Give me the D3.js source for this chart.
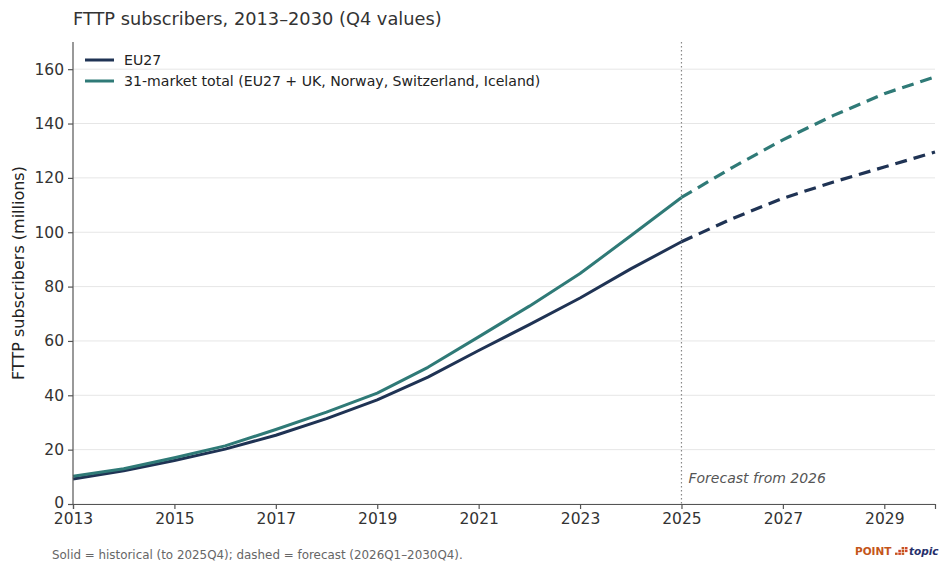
<!DOCTYPE html>
<html>
<head>
<meta charset="utf-8">
<script src="https://cdn.jsdelivr.net/npm/d3@7"></script>
<style>
  body { margin: 0; background: #fff; }
  svg { font-family: "DejaVu Sans", sans-serif; }
</style>
</head>
<body>
<div id="chart"></div>
<script>
// Q4 values, millions
const years = [2013, 2014, 2015, 2016, 2017, 2018, 2019, 2020, 2021, 2022,
               2023, 2024, 2025, 2026, 2027, 2028, 2029, 2030];
const eu27 = [9.2, 12.2, 16.0, 20.2, 25.3, 31.4, 38.3, 46.7, 56.5, 66.0,
              75.8, 86.5, 96.5, 105.0, 112.5, 118.5, 124.0, 129.5];
const total31 = [10.2, 13.0, 17.0, 21.4, 27.4, 33.8, 40.8, 50.3, 61.5, 72.8,
                 84.8, 98.7, 112.8, 123.8, 134.0, 143.0, 151.0, 157.2];
const lastActual = 2025;
const xTicks = [2013, 2015, 2017, 2019, 2021, 2023, 2025, 2027, 2029];
const yTicks = [0, 20, 40, 60, 80, 100, 120, 140, 160];

const seriesNames = ["EU27", "31-market total (EU27 + UK, Norway, Switzerland, Iceland)"];
const seriesColors = ["#1f3354", "#2f7a77"];

const W = 945, H = 572;
const margin = { top: 42, right: 10, bottom: 68, left: 73 };
const width = W - margin.left - margin.right;
const height = H - margin.top - margin.bottom;

const svg = d3.select("#chart").append("svg")
    .attr("width", W).attr("height", H);

const g = svg.append("g")
    .attr("transform", `translate(${margin.left},${margin.top})`);

const x = d3.scaleLinear().domain([2013, 2030]).range([0, width]);
const y = d3.scaleLinear().domain([0, 170]).range([height, 0]);

// grid
g.selectAll(".grid")
    .data(yTicks)
    .join("line")
    .attr("x1", 0).attr("x2", width)
    .attr("y1", d => y(d)).attr("y2", d => y(d))
    .attr("stroke", "#e6e6e6").attr("stroke-width", 1);

// forecast marker
g.append("line")
    .attr("x1", x(lastActual)).attr("x2", x(lastActual))
    .attr("y1", 0).attr("y2", height)
    .attr("stroke", "#888").attr("stroke-width", 1.2)
    .attr("stroke-dasharray", "1.5,2.5");

g.append("text")
    .attr("x", x(lastActual) + 7).attr("y", height - 21)
    .attr("font-size", 14).attr("font-style", "italic")
    .attr("fill", "#555")
    .text("Forecast from 2026");

// lines
const line = d3.line().x(d => x(d[0])).y(d => y(d[1]));
const allSeries = [eu27, total31];

allSeries.forEach((vals, i) => {
    const pts = years.map((yr, j) => [yr, vals[j]]);
    g.append("path")
        .datum(pts.filter(p => p[0] <= lastActual))
        .attr("d", line)
        .attr("fill", "none")
        .attr("stroke", seriesColors[i])
        .attr("stroke-width", 3)
        .attr("stroke-linejoin", "round");
    g.append("path")
        .datum(pts.filter(p => p[0] >= lastActual))
        .attr("d", line)
        .attr("fill", "none")
        .attr("stroke", seriesColors[i])
        .attr("stroke-width", 3.2)
        .attr("stroke-dasharray", "12,7");
});

// axes
const xAxis = g.append("g")
    .attr("transform", `translate(0,${height})`)
    .call(d3.axisBottom(x).tickValues(xTicks).tickFormat(d3.format("d")).tickSizeOuter(0).tickSize(5).tickPadding(4));
const yAxis = g.append("g")
    .call(d3.axisLeft(y).tickValues(yTicks).tickSizeOuter(0).tickSize(5).tickPadding(4));

[xAxis, yAxis].forEach(a => {
    a.select(".domain").attr("stroke", "#555").attr("stroke-width", 1.2);
    a.selectAll(".tick line").attr("stroke", "#555").attr("stroke-width", 1.2);
    a.selectAll(".tick text").attr("font-size", 15.5).attr("fill", "#333")
        .attr("font-family", "DejaVu Sans, sans-serif");
});
yAxis.select(".domain").attr("d", `M0,0V${height}`);
// lift the "0" label a touch so it clears the first year label
yAxis.selectAll(".tick text").filter(d => d === 0).attr("dy", "0.2em");

// y label
svg.append("text")
    .attr("transform", `translate(24,${margin.top + height / 2}) rotate(-90)`)
    .attr("text-anchor", "middle")
    .attr("font-size", 16).attr("fill", "#222")
    .text("FTTP subscribers (millions)");

// title
svg.append("text")
    .attr("x", 73).attr("y", 25)
    .attr("font-size", 17.8).attr("fill", "#333")
    .text("FTTP subscribers, 2013–2030 (Q4 values)");

// legend
const legend = g.append("g").attr("transform", "translate(12,18)");
seriesNames.forEach((name, i) => {
    const row = legend.append("g").attr("transform", `translate(0,${i * 21})`);
    row.append("line").attr("x1", 0).attr("x2", 29)
        .attr("stroke", seriesColors[i]).attr("stroke-width", 3);
    row.append("text").attr("x", 39).attr("y", 5)
        .attr("font-size", 14.1).attr("fill", "#222")
        .text(name);
});

// footnote
svg.append("text")
    .attr("x", 52).attr("y", 559)
    .attr("font-size", 11.9).attr("fill", "#666")
    .text("Solid = historical (to 2025Q4); dashed = forecast (2026Q1–2030Q4).");

// logo
const logo = svg.append("g").attr("transform", "translate(855,555)");
logo.append("text")
    .attr("font-size", 10.5).attr("font-weight", "bold").attr("fill", "#c4561a")
    .text("POINT");
const sq = [[0,2],[1,2],[2,2],[1,1],[2,1],[3,1],[2,0],[3,0]];
logo.selectAll("rect").data(sq).join("rect")
    .attr("x", d => 40 + d[0] * 3.3).attr("y", d => -8 + d[1] * 2.8)
    .attr("width", 2.6).attr("height", 2.3)
    .attr("fill", (d, i) => i % 2 ? "#d0452a" : "#c4561a");
logo.append("text")
    .attr("x", 54)
    .attr("font-size", 10.5).attr("font-weight", "bold").attr("font-style", "italic")
    .attr("fill", "#26306b")
    .text("topic");
</script>
</body>
</html>
